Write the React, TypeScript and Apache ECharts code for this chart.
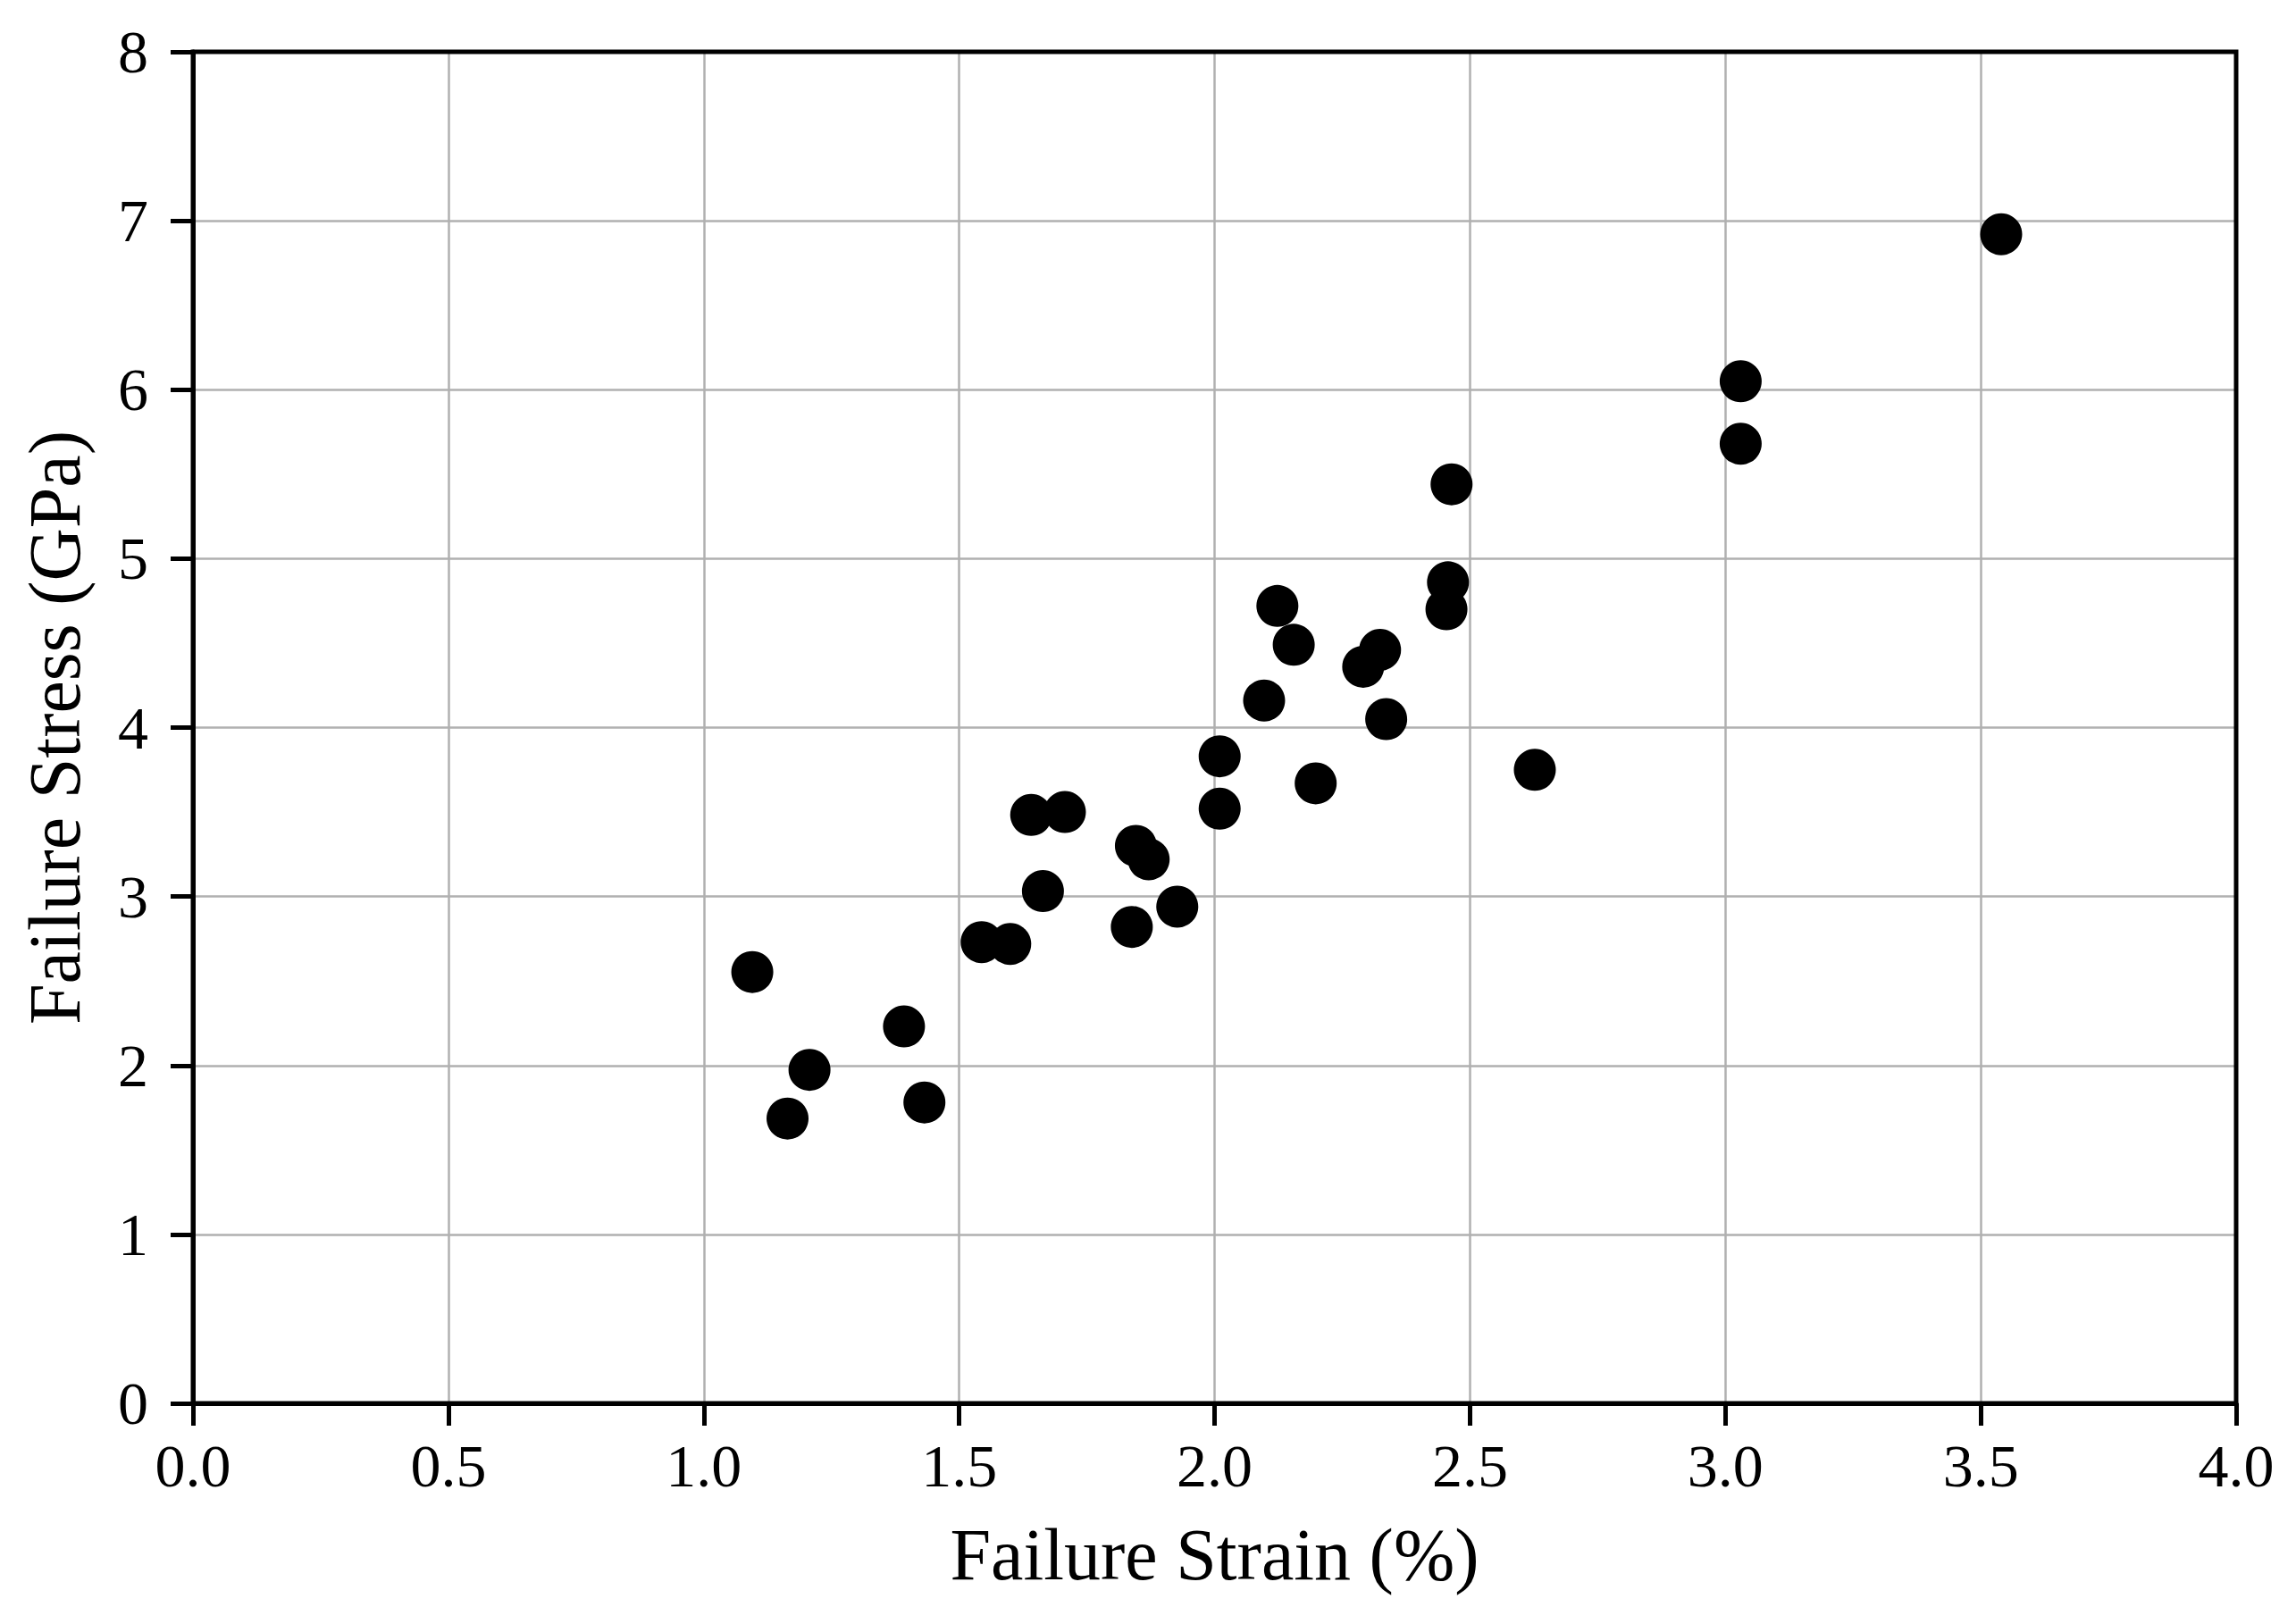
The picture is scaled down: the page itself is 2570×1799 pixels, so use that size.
import React, { useEffect, useRef } from "react";
import * as echarts from "echarts";

const strainPct: number[] = [
  1.095, 1.207, 1.164, 1.392, 1.432, 1.544, 1.6, 1.664, 1.641, 1.707,
  1.846, 1.871, 1.838, 1.927, 2.01, 2.01, 2.097, 2.123, 2.155, 2.198,
  2.291, 2.324, 2.336, 2.454, 2.457, 2.464, 2.627, 3.03, 3.03, 3.54,
];
const stressGPa: number[] = [
  2.553, 1.974, 1.686, 2.231, 1.781, 2.73, 2.719, 3.032, 3.483, 3.5,
  3.3, 3.22, 2.82, 2.94, 3.83, 3.52, 4.16, 4.72, 4.49, 3.67,
  4.36, 4.46, 4.05, 4.7, 4.86, 5.44, 3.75, 6.05, 5.68, 6.92,
];
const xTitle = "Failure Strain (%)";
const yTitle = "Failure Stress (GPa)";

const FONT = '"Liberation Serif", "Times New Roman", serif';

export default function App() {
  const ref = useRef<HTMLDivElement>(null);
  useEffect(() => {
    document.body.style.margin = "0";
    if (!ref.current) return;
    const chart = echarts.init(ref.current, null, { renderer: "svg" });
    const data = strainPct.map((x, i) => [x, stressGPa[i]]);
    chart.setOption({
      animation: false,
      backgroundColor: "#ffffff",
      grid: {
        left: 216,
        top: 58,
        right: 67,
        bottom: 228,
        outerBoundsMode: "none",
        containLabel: false,
        show: true,
        borderColor: "#000000",
        borderWidth: 5,
        backgroundColor: "transparent",
        z: 3,
      },
      xAxis: {
        type: "value",
        min: 0,
        max: 4,
        interval: 0.5,
        name: xTitle,
        nameLocation: "middle",
        nameGap: 128,
        nameTextStyle: { fontFamily: FONT, fontSize: 82, color: "#000" },
        axisLine: { show: true, onZero: false, lineStyle: { color: "#000", width: 5 } },
        axisTick: { show: true, inside: false, length: 25, lineStyle: { color: "#000", width: 5 } },
        axisLabel: {
          margin: 36,
          fontFamily: FONT,
          fontSize: 68,
          color: "#000",
          formatter: (v: number) => v.toFixed(1),
        },
        splitLine: { show: true, lineStyle: { color: "#b0b0b0", width: 2.5 } },
      },
      yAxis: {
        type: "value",
        min: 0,
        max: 8,
        interval: 1,
        name: yTitle,
        nameLocation: "middle",
        nameGap: 114,
        nameTextStyle: { fontFamily: FONT, fontSize: 82, color: "#000" },
        axisLine: { show: true, onZero: false, lineStyle: { color: "#000", width: 5 } },
        axisTick: { show: true, inside: false, length: 25, lineStyle: { color: "#000", width: 5 } },
        axisLabel: {
          margin: 50,
          fontFamily: FONT,
          fontSize: 68,
          color: "#000",
          formatter: (v: number) => String(v),
        },
        splitLine: { show: true, lineStyle: { color: "#b0b0b0", width: 2.5 } },
      },
      series: [
        {
          type: "scatter",
          data,
          symbol: "circle",
          symbolSize: 47,
          itemStyle: { color: "#000000", opacity: 1 },
          emphasis: { disabled: true },
          z: 2,
        },
      ],
    });
    return () => chart.dispose();
  }, []);
  return (
    <div
      ref={ref}
      style={{ position: "absolute", left: 0, top: 0, width: "2570px", height: "1799px", background: "#fff" }}
    />
  );
}
